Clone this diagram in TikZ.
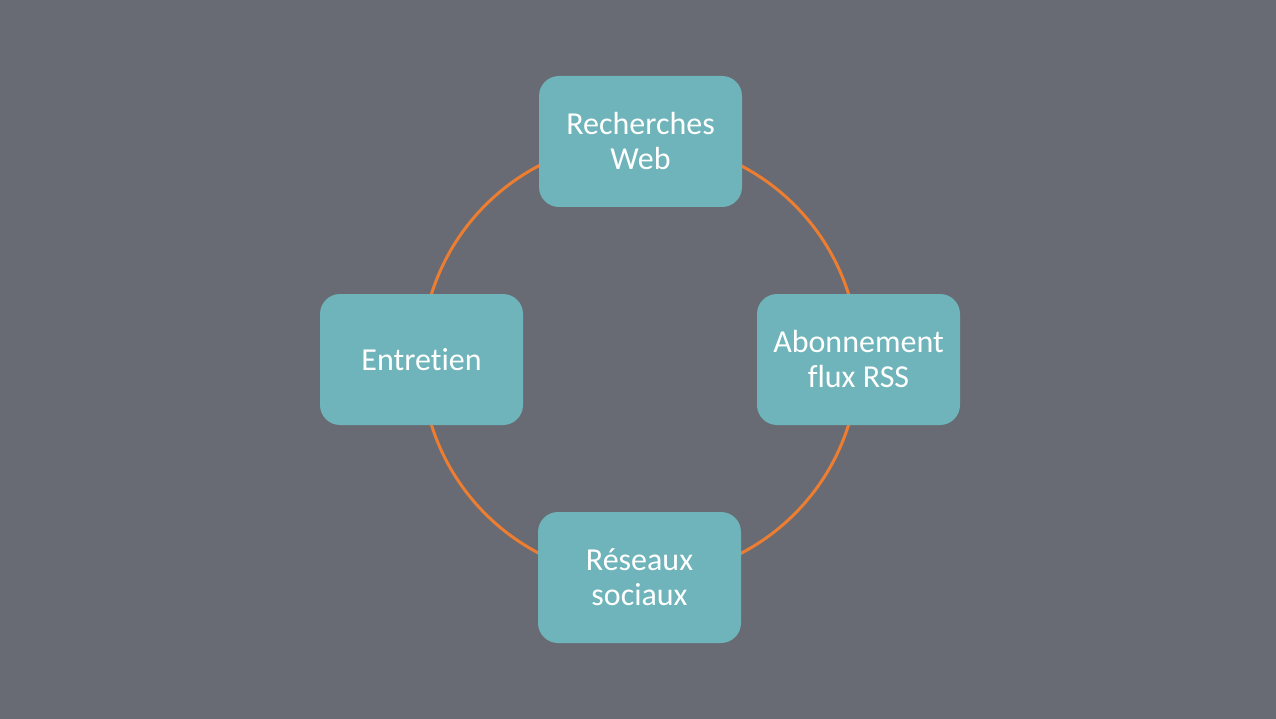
\documentclass[tikz,border=0pt]{standalone}
\usepackage{fontspec}
\setmainfont{Carlito}[Ligatures=NoCommon]
\definecolor{slidebg}{RGB}{104, 107, 115}
\definecolor{boxteal}{RGB}{110, 180, 186}
\definecolor{ringorange}{RGB}{237, 125, 49}
\tikzset{
  topic/.style={rounded corners=20pt, fill=boxteal, minimum width=203pt, minimum height=131pt,
    inner sep=0pt, align=center, text=white, font=\fontsize{32}{35}\selectfont},
  ring/.style={line width=3pt, ringorange}
}
\begin{document}
\begin{tikzpicture}[x=1pt, y=-1pt]
    % Background
    \fill[slidebg] (0,0) rectangle (1276,719);
    \useasboundingbox (0,0) rectangle (1276,719);

    % Ring behind the topics
    \coordinate (hub) at (640,359.5);
    \draw[ring] (hub) circle[radius=218.5pt];

    % Topics
    \node[topic] (web) at (640.5,141.5) {Recherches\\Web};
    \node[topic] (rss) at (858.5,359.5) {Abonnement\\flux RSS};
    \node[topic] (social) at (639.5,577.5) {Réseaux\\sociaux};
    \node[topic] (talk) at (421.5,359.5) {Entretien};
\end{tikzpicture}
\end{document}
